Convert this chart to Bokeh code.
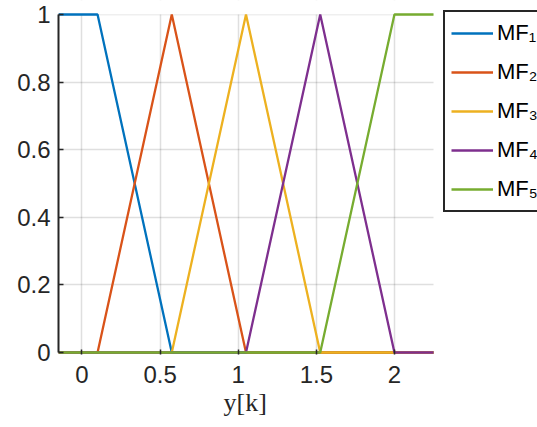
from bokeh.plotting import figure
from bokeh.models import Range1d, FixedTicker, Legend, LegendItem, BoxAnnotation, Title
from bokeh.embed import file_html
from bokeh.resources import INLINE

# ---- data ----
labels = ["MF\u2081", "MF\u2082", "MF\u2083", "MF\u2084", "MF\u2085"]
colors = ["#0072BD", "#D95319", "#EDB120", "#7E2F8E", "#77AC30"]

x_mf1 = [-0.15, 0.1, 0.575, 2.25]
y_mf1 = [1, 1, 0, 0]
x_mf2 = [-0.15, 0.1, 0.575, 1.05, 2.25]
y_mf2 = [0, 0, 1, 0, 0]
x_mf3 = [-0.15, 0.575, 1.05, 1.525, 2.25]
y_mf3 = [0, 0, 1, 0, 0]
x_mf4 = [-0.15, 1.05, 1.525, 2.0, 2.25]
y_mf4 = [0, 0, 1, 0, 0]
x_mf5 = [-0.15, 1.525, 2.0, 2.25]
y_mf5 = [0, 0, 1, 1]

x_ticks = [0, 0.5, 1, 1.5, 2]
x_tick_labels = ["0", "0.5", "1", "1.5", "2"]
y_ticks = [0, 0.2, 0.4, 0.6, 0.8, 1]
y_tick_labels = ["0", "0.2", "0.4", "0.6", "0.8", "1"]
x_label = "y[k]"

xs = [x_mf1, x_mf2, x_mf3, x_mf4, x_mf5]
ys = [y_mf1, y_mf2, y_mf3, y_mf4, y_mf5]

x_min = min(min(x) for x in xs)
x_max = max(max(x) for x in xs)
y_lo, y_hi = min(y_ticks), max(y_ticks)

W, H = 537, 427
left = 58
axes_w = 375          # width of the axes box (x_min..x_max)
axes_top, axes_h = 14, 338   # pixel rows of y=1 and height to y=0
pad_bottom = 2

px_per_x = axes_w / (x_max - x_min)
x_end = x_min + (W - left) / px_per_x          # frame runs to canvas edge
px_per_y = axes_h / (y_hi - y_lo)
y_start = y_lo - pad_bottom / px_per_y
y_end = y_hi + axes_top / px_per_y              # frame runs to canvas top
frame_h = axes_top + axes_h + pad_bottom

p = figure(width=W, height=H, output_backend="svg", toolbar_location=None,
           x_range=Range1d(x_min, x_end), y_range=Range1d(y_start, y_end),
           min_border_left=left, min_border_right=0, min_border_top=0,
           min_border_bottom=H - frame_h)
p.outline_line_color = None
p.background_fill_color = "white"

renderers = []
for x, y, c in zip(xs, ys, colors):
    r = p.line(x, y, line_color=c, line_width=2.3)
    renderers.append(r)

dark = "#262626"
font = "Liberation Sans"

p.xaxis.ticker = FixedTicker(ticks=x_ticks)
p.yaxis.ticker = FixedTicker(ticks=y_ticks)
p.yaxis.bounds = (y_lo, y_hi)
p.xaxis.major_label_overrides = dict(zip(x_ticks, x_tick_labels))
p.yaxis.major_label_overrides = dict(zip(y_ticks, y_tick_labels))
for ax in (p.xaxis, p.yaxis):
    ax.major_tick_in = 5
    ax.major_tick_out = 0
    ax.minor_tick_line_color = None
    ax.major_tick_line_color = dark
    ax.major_tick_line_width = 1.5
    ax.major_label_text_font = font
    ax.major_label_text_font_size = "24px"
    ax.major_label_text_color = dark
p.xaxis.axis_line_color = None
p.yaxis.axis_line_color = dark
p.yaxis.axis_line_width = 2
p.xaxis.major_label_standoff = 11
p.yaxis.major_label_standoff = 8

# x-axis caption, centred under the axes box
p.add_layout(Title(text=x_label, align="left", offset=165, standoff=0,
                   text_font="Liberation Serif", text_font_style="normal",
                   text_font_size="26px", text_color=dark), "below")

p.grid.grid_line_color = dark
p.grid.grid_line_alpha = 0.15
p.grid.grid_line_width = 1.5

# blank the frame outside the axes box (under the data lines)
p.add_layout(BoxAnnotation(left=x_max, fill_color="white", fill_alpha=1,
                           line_color=None, level="underlay"))
p.add_layout(BoxAnnotation(bottom=y_hi, fill_color="white", fill_alpha=1,
                           line_color=None, level="underlay"))

items = [LegendItem(label=l, renderers=[r]) for l, r in zip(labels, renderers)]
legend = Legend(items=items, location=(385, 142), orientation="vertical",
                label_text_font=font, label_text_font_size="22px",
                label_text_color="black", label_standoff=4,
                glyph_width=42, glyph_height=30, label_height=30,
                spacing=9, padding=6, margin=0,
                border_line_color=dark, border_line_width=2,
                border_line_alpha=1,
                background_fill_color="white", background_fill_alpha=1)
p.add_layout(legend, "center")

open("out.html", "w").write(file_html(p, INLINE))
